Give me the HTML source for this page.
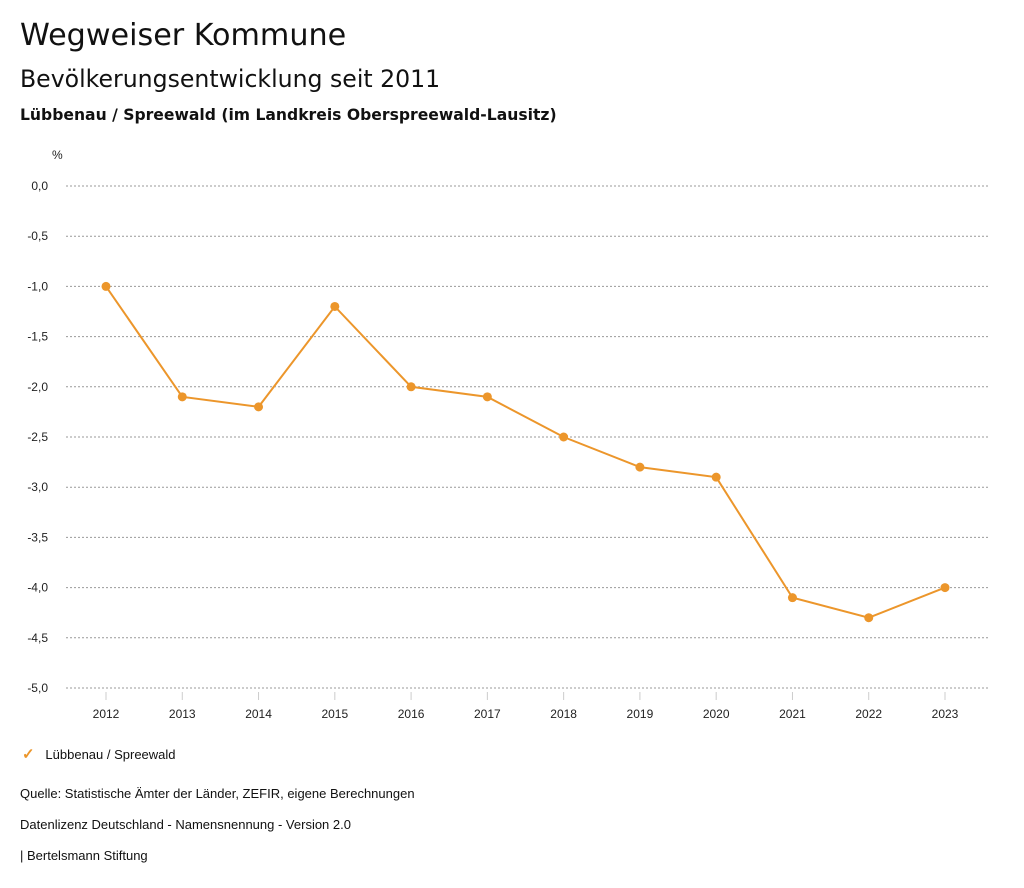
<!DOCTYPE html>
<html><head><meta charset="utf-8"><style>
body{margin:0;width:1024px;height:888px;background:#fff;font-family:"Liberation Sans",sans-serif;color:#111;overflow:hidden;position:relative}
.t{position:absolute;white-space:nowrap}
.d{font-family:"DejaVu Sans",sans-serif}
</style></head><body>
<div class="t d" style="left:20px;top:18px;font-size:30.2px">Wegweiser Kommune</div>
<div class="t d" style="left:20px;top:65px;font-size:23.6px">Bevölkerungsentwicklung seit 2011</div>
<div class="t d" style="left:20px;top:106px;font-size:15.6px;font-weight:bold">Lübbenau / Spreewald (im Landkreis Oberspreewald-Lausitz)</div>
<svg id="chart" width="1024" height="888" style="position:absolute;left:0;top:0" font-family="Liberation Sans, sans-serif"></svg>
<div class="t" style="left:22px;top:745px;font-size:13px"><span style="color:#ec962b;font-size:15px;font-weight:bold">✓</span>&nbsp;&nbsp;&nbsp;Lübbenau / Spreewald</div>
<div class="t" style="left:20px;top:786px;font-size:13px">Quelle: Statistische Ämter der Länder, ZEFIR, eigene Berechnungen</div>
<div class="t" style="left:20px;top:817px;font-size:13px">Datenlizenz Deutschland - Namensnennung - Version 2.0</div>
<div class="t" style="left:20px;top:848px;font-size:13px">| Bertelsmann Stiftung</div>
<script>
const years=[2012,2013,2014,2015,2016,2017,2018,2019,2020,2021,2022,2023];
const values=[-1.0,-2.1,-2.2,-1.2,-2.0,-2.1,-2.5,-2.8,-2.9,-4.1,-4.3,-4.0];
const yTicks=[0,-0.5,-1,-1.5,-2,-2.5,-3,-3.5,-4,-4.5,-5];
const NS="http://www.w3.org/2000/svg";
const svg=document.getElementById('chart');
const x=i=>106+i*(945-106)/11;
const y=v=>186+(-v)*(688-186)/5;
function mk(t,a){const e=document.createElementNS(NS,t);for(const k in a)e.setAttribute(k,a[k]);svg.appendChild(e);return e;}
const u=mk('text',{x:52,y:159,'font-size':12,fill:'#222'});u.textContent='%';


yTicks.forEach(v=>{
 const l=mk('line',{x1:66,x2:990,y1:y(v),y2:y(v),stroke:'#999','stroke-dasharray':'2,2','stroke-width':1});
 
 
 const t=mk('text',{x:48,y:y(v)+4,'font-size':12,fill:'#222','text-anchor':'end'});
 t.textContent=v.toFixed(1).replace('.',',').replace('-0,0','0,0');
 
 
});
years.forEach((yr,i)=>{
 const l=mk('line',{x1:x(i),x2:x(i),y1:692,y2:700,stroke:'#ccc'});
 
 
 const t=mk('text',{x:x(i),y:718,'font-size':12,fill:'#222','text-anchor':'middle'});
 t.textContent=yr;
 
 
});
const p=mk('polyline',{points:values.map((v,i)=>x(i)+','+y(v)).join(' '),fill:'none',stroke:'#ec962b','stroke-width':2});


values.forEach((v,i)=>{
 const c=mk('circle',{cx:x(i),cy:y(v),r:4.5,fill:'#ec962b'});
 
 
});
</script>
</body></html>
